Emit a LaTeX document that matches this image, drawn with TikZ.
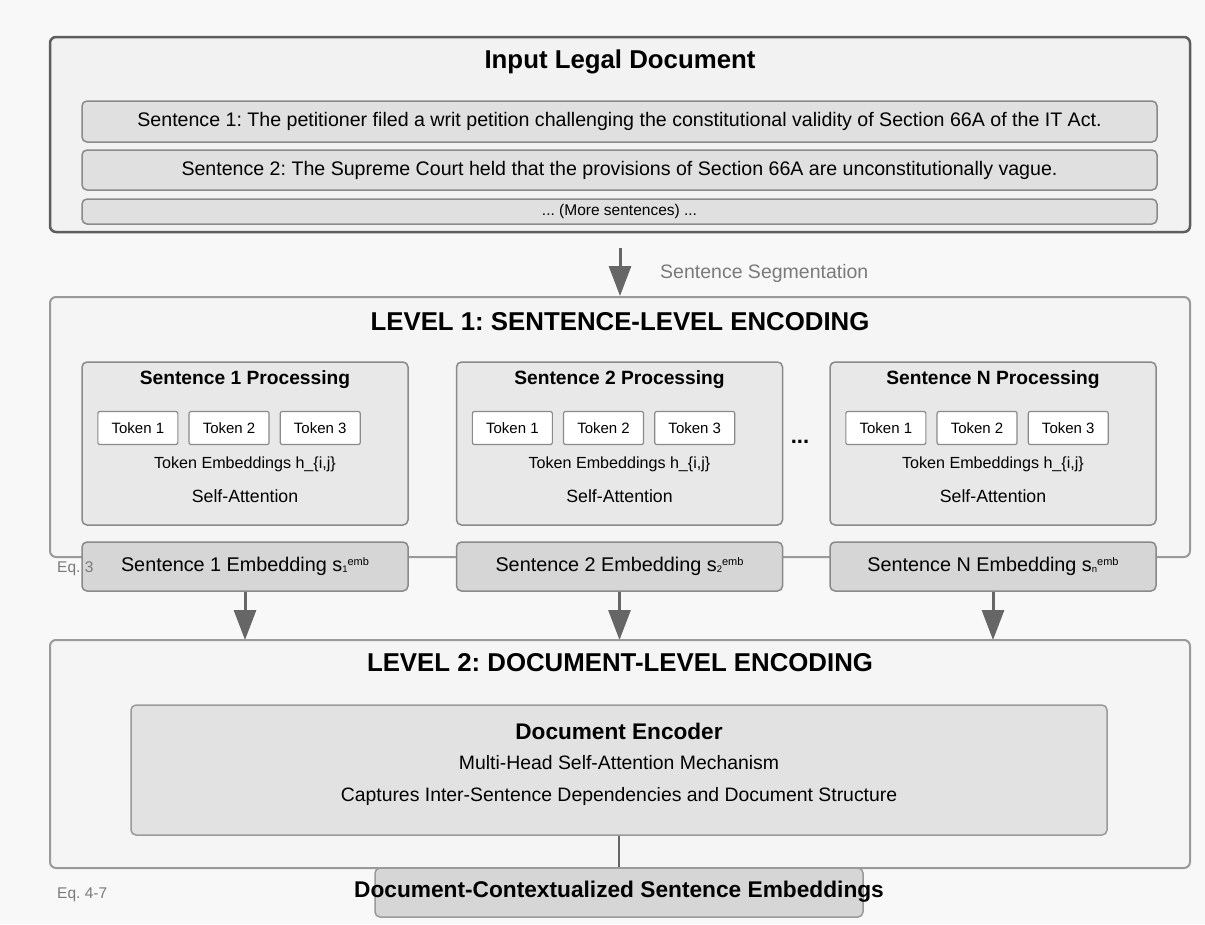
\documentclass[tikz,border=0pt]{standalone}
\usepackage{fontspec}
\setmainfont{Liberation Sans}
\usetikzlibrary{arrows.meta}
\frenchspacing

\definecolor{pagebg}{HTML}{F8F8F8}
\definecolor{docfill}{HTML}{F2F2F2}
\definecolor{docline}{HTML}{5E5E5E}
\definecolor{sentfill}{HTML}{E0E0E0}
\definecolor{levelfill}{HTML}{F5F5F5}
\definecolor{levelline}{HTML}{9A9A9A}
\definecolor{procfill}{HTML}{E8E8E8}
\definecolor{boxline}{HTML}{8A8A8A}
\definecolor{embfill}{HTML}{D6D6D6}
\definecolor{encfill}{HTML}{E2E2E2}
\definecolor{arrowgray}{HTML}{666666}
\definecolor{labelgray}{HTML}{7A7A7A}

\newcommand\fsz[1]{\fontsize{#1}{#1}\selectfont}
\newcommand\embsym[1]{s\raisebox{-0.5pt}{\fsz{9.5}#1}\raisebox{6pt}{\fsz{11}emb}}

\tikzset{
  panel/.style={draw, rounded corners=6pt, inner sep=0pt},
  docpanel/.style={panel, fill=docfill, draw=docline, line width=2.5pt},
  levelpanel/.style={panel, fill=levelfill, draw=levelline, line width=2pt},
  sentbox/.style={draw=boxline, fill=sentfill, line width=1.5pt, rounded corners=5pt,
    minimum width=1075pt, inner sep=0pt, font=\fsz{19.6}},
  procbox/.style={draw=boxline, fill=procfill, line width=1.5pt, rounded corners=5pt,
    minimum width=326pt, minimum height=163pt, inner sep=0pt},
  tokbox/.style={draw=boxline, fill=white, line width=1.2pt, rounded corners=2pt,
    minimum width=80pt, minimum height=33pt, inner sep=0pt, font=\fsz{15}},
  embbox/.style={draw=boxline, fill=embfill, line width=1.5pt, rounded corners=5pt,
    minimum width=326pt, minimum height=49pt, inner sep=0pt, font=\fsz{19.8}},
  title/.style={font=\bfseries\fsz{25.8}, inner sep=0pt},
  subtitle/.style={font=\bfseries\fsz{19.2}, inner sep=0pt},
  plain/.style={font=\fsz{16}, inner sep=0pt},
  note/.style={font=\fsz{15.5}, text=labelgray, inner sep=0pt, anchor=west},
  flow/.style={draw=arrowgray, line width=3pt, -{Triangle[length=30pt,width=22pt]}},
  link/.style={draw=arrowgray, line width=2pt},
}

\begin{document}
\begin{tikzpicture}[x=1pt, y=-1pt]
  % canvas
  \fill[pagebg] (0,0) rectangle (1205,924);
  \useasboundingbox (0,0) rectangle (1205,924);

  % ---------- input document ----------
  \node[docpanel, minimum width=1140pt, minimum height=195pt] (doc) at (620,134.5) {};
  \node[title] (doctitle) at (620,62) {Input Legal Document};
  \node[sentbox, minimum height=41pt] (s1) at (619.5,121.5)
    {Sentence 1: The petitioner filed a writ petition challenging the constitutional validity of Section 66A of the IT Act.};
  \node[sentbox, minimum height=40pt] (s2) at (619.5,170)
    {Sentence 2: The Supreme Court held that the provisions of Section 66A are unconstitutionally vague.};
  \node[sentbox, minimum height=25pt, font=\fsz{15.5}] (more) at (619.5,211.5) {... (More sentences) ...};

  % ---------- level 1 ----------
  \node[levelpanel, minimum width=1140pt, minimum height=260pt] (l1) at (620,427) {};
  \coordinate (segtop) at (620,248);
  \draw[flow] (segtop) -- (l1.north);
  \node[note, font=\fsz{19.5}] (seglabel) at (660,273) {Sentence Segmentation};
  \node[title] (l1title) at (620,322) {LEVEL 1: SENTENCE-LEVEL ENCODING};

  \foreach \i/\cx/\lab/\sub in {1/245/1/1, 2/619.5/2/2, 3/993/N/n}{
    \node[procbox] (p\i) at (\cx,443.5) {};
    \node[subtitle] (p\i title) at (\cx,380) {Sentence \lab{} Processing};
    \node[tokbox, anchor=west] (p\i t1) at ([xshift=16pt]p\i.west |- 0,428) {Token 1};
    \node[tokbox, anchor=west] (p\i t2) at ([xshift=10pt]p\i t1.east) {Token 2};
    \node[tokbox, anchor=west] (p\i t3) at ([xshift=10pt]p\i t2.east) {Token 3};
    \node[plain, font=\fsz{16.1}] (p\i emb) at (\cx,464) {Token Embeddings h\_\{i,j\}};
    \node[plain, font=\fsz{17.7}] (p\i att) at (\cx,496) {Self-Attention};
    \node[embbox] (e\i) at (\cx,566.5) {Sentence \lab{} Embedding \embsym{\sub}};
    \draw[flow] (e\i.south) -- (e\i.south |- 0,640);
  }
  \node[font=\bfseries\fsz{22}, inner sep=0pt] (dots) at (800,442) {...};
  \node[note] (eq3) at (57,569) {Eq. 3};

  % ---------- level 2 ----------
  \node[levelpanel, minimum width=1140pt, minimum height=228pt] (l2) at (620,754) {};
  \node[title] (l2title) at (620,663) {LEVEL 2: DOCUMENT-LEVEL ENCODING};
  \node[draw=levelline, fill=encfill, line width=1.5pt, rounded corners=5pt,
        minimum width=976pt, minimum height=130pt, inner sep=0pt] (enc) at (619,770) {};
  \node[font=\bfseries\fsz{22.6}, inner sep=0pt] (enctitle) at (619,731) {Document Encoder};
  \node[plain, font=\fsz{19.4}] (encl1) at (619,763) {Multi-Head Self-Attention Mechanism};
  \node[plain, font=\fsz{19.4}] (encl2) at (619,796) {Captures Inter-Sentence Dependencies and Document Structure};

  \node[draw=levelline, fill=embfill, line width=1.5pt, rounded corners=5pt,
        minimum width=488pt, minimum height=49pt, inner sep=0pt] (out) at (619,892.5) {};
  \draw[link] (enc.south) -- (out.north);
  \node[font=\bfseries\fsz{22.7}, inner sep=0pt] (outtext) at (619,892) {Document-Contextualized Sentence Embeddings};
  \node[note] (eq47) at (57,895) {Eq. 4-7};
\end{tikzpicture}
\end{document}
